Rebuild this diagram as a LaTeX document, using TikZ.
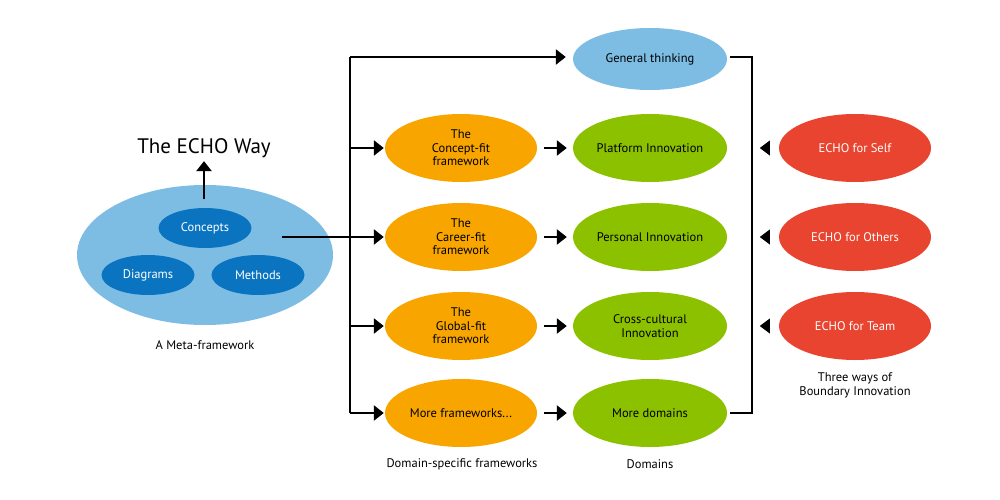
\documentclass[tikz,border=0pt]{standalone}
\usepackage{fontspec}
\setmainfont{PT Sans}
\usetikzlibrary{arrows.meta,shapes.geometric,calc}
\definecolor{lblue}{HTML}{7DBDE4}
\definecolor{dblue}{HTML}{0A74C0}
\definecolor{orng}{HTML}{F9A500}
\definecolor{grn}{HTML}{8CC100}
\definecolor{rd}{HTML}{E8442F}
\tikzset{
  ell/.style={ellipse, inner sep=0pt, align=center, font=\fontsize{12.5}{13.5}\selectfont, text=black},
  meta/.style={ell, fill=lblue, minimum width=256pt, minimum height=140pt},
  sub/.style={ell, fill=dblue, text=white, minimum width=93pt, minimum height=40pt},
  gen/.style={ell, fill=lblue, minimum width=154pt, minimum height=62pt},
  fw/.style={ell, fill=orng, minimum width=152pt, minimum height=68pt},
  dom/.style={ell, fill=grn, minimum width=154pt, minimum height=68pt},
  way/.style={ell, fill=rd, text=white, minimum width=152pt, minimum height=68pt},
  lbl/.style={align=center, font=\fontsize{12.5}{14}\selectfont},
  wire/.style={line width=2.8pt},
  arr/.style={wire, -{Triangle[length=10pt,width=15pt]}},
  tri/.style={fill=black}
}
\begin{document}
\begin{tikzpicture}[x=1pt,y=-1pt]
\useasboundingbox (0,0) rectangle (1000,500);
% meta-framework
\node[meta] (meta) at (205,255) {};
\node[sub] (concepts) at (205,228) {Concepts};
\node[sub] (diagrams) at (148,275) {Diagrams};
\node[sub] (methods) at (258,275) {Methods};
\node[font=\fontsize{21}{24}\selectfont] (echo) at (204,148) {The ECHO Way};
\node[lbl] (metalbl) at (205,345) {A Meta-framework};
\coordinate (cup) at (204,199);
\draw[arr] (cup) -- (echo.south);
% trunk
\coordinate (ttop) at (350,57);
\coordinate (tbot) at (350,413);
\coordinate (mout) at (282,237);
% row nodes
\node[gen] (gen) at (650,59) {General thinking};
\node[fw] (fw1) at (461,148) {The\\Concept-fit\\framework};
\node[fw] (fw2) at (461,237) {The\\Career-fit\\framework};
\node[fw] (fw3) at (461,326) {The\\Global-fit\\framework};
\node[fw] (fw4) at (461,413) {More frameworks...};
\node[dom] (d1) at (650,148) {Platform Innovation};
\node[dom] (d2) at (650,237) {Personal Innovation};
\node[dom] (d3) at (650,326) {Cross-cultural\\Innovation};
\node[dom] (d4) at (650,413) {More domains};
\node[way] (w1) at (855,148) {ECHO for Self};
\node[way] (w2) at (855,237) {ECHO for Others};
\node[way] (w3) at (855,326) {ECHO for Team};
\node[lbl] (threelbl) at (855,385) {Three ways of\\Boundary Innovation};
\node[lbl] (dsflbl) at (462,464) {Domain-specific frameworks};
\node[lbl] (domlbl) at (650,464) {Domains};
% connectors
\draw[wire] (ttop) -- (tbot);
\draw[arr, shorten >=7pt] (ttop) -- (ttop -| gen.west);
\draw[arr, shorten >=1pt] (mout) -- (fw2.west);
\draw[arr, shorten >=1pt] (ttop |- fw1) -- (fw1.west);
\draw[arr, shorten >=1pt] (ttop |- fw3) -- (fw3.west);
\draw[arr, shorten >=1pt] (ttop |- fw4) -- (fw4.west);
\foreach \i in {1,2,3,4}{
  \draw[arr, shorten <=7pt, shorten >=6pt] (fw\i.east) -- (d\i.west);
}
\coordinate (rtop) at (752,57);
\coordinate (rbot) at (752,413);
\draw[wire] ($(gen.east)+(3,-2)$) -- (rtop) -- (rbot) -- ($(d4.east)+(3,0)$);
% arrowheads from the three ways
\foreach \i in {1,2,3}{
  \fill[tri] ($(w\i.west)+(-9,-7.5)$) -- ($(w\i.west)+(-19,0)$) -- ($(w\i.west)+(-9,7.5)$) -- cycle;
}
\end{tikzpicture}
\end{document}
